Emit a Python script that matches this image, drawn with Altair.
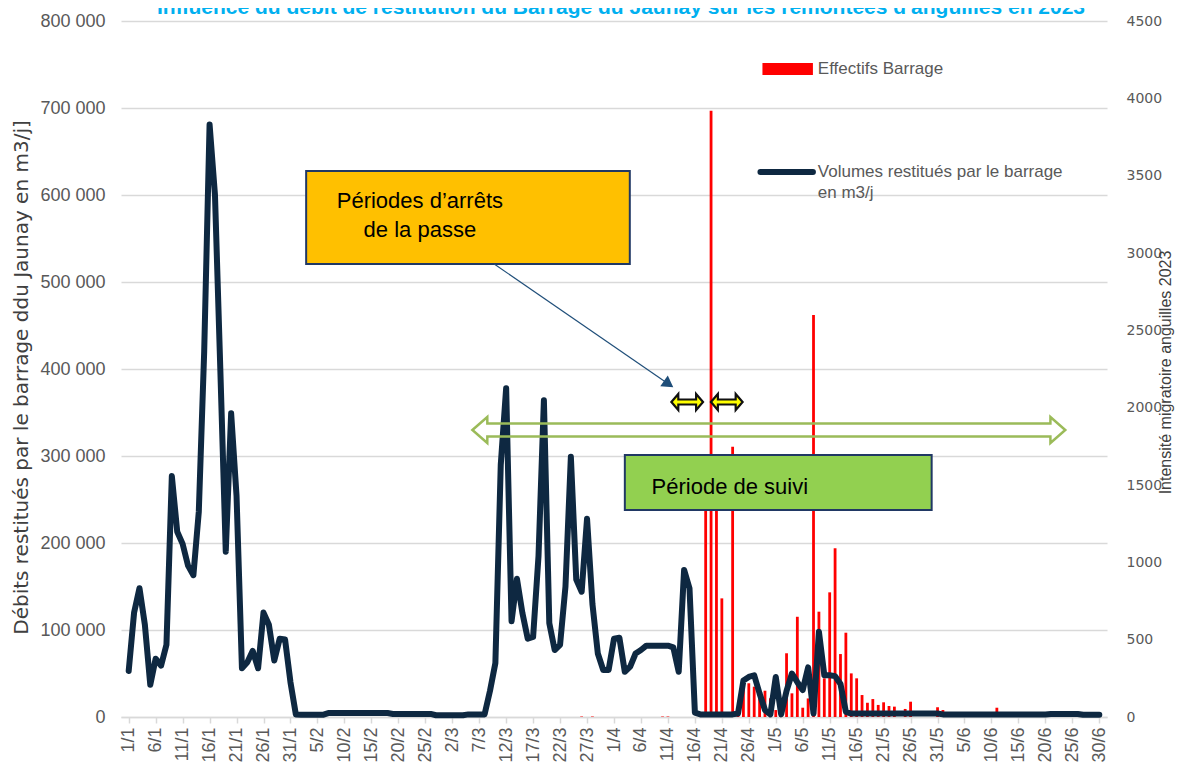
import altair as alt
import pandas as pd

TITLE = "Influence du débit de restitution du Barrage du Jaunay sur les remontées d'anguilles en 2023"

# ---------------- data ----------------
# day index: 0 = 1/1/2023 ... 180 = 30/6/2023
days = list(range(181))

volumes = [
    53000, 120000, 148000, 106000, 37000, 67000, 59000, 83000, 277000, 213000,
    199000, 174000, 163000, 236000, 420000, 681000, 600000, 398000, 190000, 349000,
    254000, 56000, 63000, 76000, 56000, 120000, 106000, 65000, 90000, 89000,
    40000, 3000, 2500, 2500, 2500, 2500, 2500, 4500, 4500, 4500,
    4500, 4500, 4500, 4500, 4500, 4500, 4500, 4500, 4500, 3500,
    3500, 3500, 3500, 3500, 3500, 3500, 3500, 2000, 2000, 2000,
    2000, 2000, 2000, 3000, 3000, 3000, 3000, 30000, 62000, 290000,
    378000, 110000, 159000, 120000, 90000, 92000, 185000, 364000, 108000, 77000,
    83000, 150000, 299000, 158000, 144000, 228000, 130000, 73000, 54000, 54000,
    90000, 91000, 52000, 58000, 73000, 77000, 82000, 82000, 82000, 82000,
    82000, 80000, 52000, 169000, 148000, 5000, 3000, 3000, 3000, 3000,
    3000, 3000, 3000, 4000, 42000, 46000, 48000, 27000, 8000, 3000,
    46000, 3000, 30000, 50000, 40000, 31000, 57000, 4000, 98000, 48000,
    48000, 47000, 38000, 6000, 4000, 4000, 4000, 4000, 4000, 4000,
    4000, 4000, 4000, 4000, 4000, 4000, 4000, 4000, 4000, 4000,
    4000, 3000, 3000, 3000, 3000, 3000, 3000, 3000, 3000, 3000,
    3000, 3000, 3000, 3000, 3000, 3000, 3000, 3000, 3000, 3000,
    3000, 3500, 3500, 3500, 3500, 3500, 3500, 2500, 2500, 2500,
    2500,
]

bar_days = [84, 86, 99, 100, 107, 108, 109, 110, 112, 113, 114, 115, 116, 117, 118,
            119, 120, 121, 122, 123, 124, 125, 126, 127, 128, 129, 130, 131, 132,
            133, 134, 135, 136, 137, 138, 139, 140, 141, 142, 144, 145, 150, 151, 161]
bar_counts = [3, 3, 3, 3, 1550, 3920, 1500, 767, 1748, 60, 175, 218, 196, 165, 170,
              121, 45, 60, 412, 153, 648, 60, 120, 2599, 681, 250, 806, 1091, 407,
              545, 282, 250, 142, 92, 116, 78, 95, 71, 67, 52, 99, 63, 45, 60]

tick_days = [0, 5, 10, 15, 20, 25, 30, 35, 40, 45, 50, 55, 60, 65, 70, 75, 80, 85,
             90, 95, 100, 105, 110, 115, 120, 125, 130, 135, 140, 145, 150, 155,
             160, 165, 170, 175, 180]
tick_labels = ["1/1", "6/1", "11/1", "16/1", "21/1", "26/1", "31/1", "5/2", "10/2",
               "15/2", "20/2", "25/2", "2/3", "7/3", "12/3", "17/3", "22/3", "27/3",
               "1/4", "6/4", "11/4", "16/4", "21/4", "26/4", "1/5", "6/5", "11/5",
               "16/5", "21/5", "26/5", "31/5", "5/6", "10/6", "15/6", "20/6", "25/6",
               "30/6"]
left_ticks = [0, 100000, 200000, 300000, 400000, 500000, 600000, 700000, 800000]
right_ticks = [0, 500, 1000, 1500, 2000, 2500, 3000, 3500, 4000, 4500]

line_df = pd.DataFrame({"day": days, "volume": volumes})
bar_df = pd.DataFrame({"day": bar_days, "count": bar_counts})

# ---------------- scales / axes ----------------
XS = alt.Scale(domain=[-0.5, 180.5], nice=False, zero=False)
YL = alt.Scale(domain=[0, 800000], nice=False)
YR = alt.Scale(domain=[0, 4500], nice=False)

LINE_COLOR = "#0E2841"
GREY = "#595959"

label_list = "[" + ",".join("'" + s + "'" for s in tick_labels) + "]"
day_list = "[" + ",".join(str(d) for d in tick_days) + "]"
x_label_expr = label_list + "[indexof(" + day_list + ", datum.value)]"

X_AXIS = alt.Axis(
    values=tick_days, labelExpr=x_label_expr, labelAngle=270, labelFlush=False,
    labelOverlap=False, labelFont="Liberation Sans", labelFontSize=18,
    labelColor=GREY, labelPadding=4, grid=False, domain=True, domainColor="#D9D9D9",
    domainWidth=1.5, ticks=True, tickColor="#D9D9D9", tickSize=6, tickWidth=1.5,
    title=None)


def xq(field):
    return alt.X(field, type="quantitative", scale=XS, axis=X_AXIS)


# ---------------- main marks ----------------
bars = alt.Chart(bar_df).mark_bar(color="#FF0000", size=2.8).encode(
    x=xq("day"),
    y=alt.Y("count:Q", scale=YR, axis=alt.Axis(
        orient="right", values=right_ticks, format="d", grid=False, ticks=False,
        domain=False, labelPadding=19, labelFont="DejaVu Sans", labelFontSize=14,
        labelColor=GREY, title="Intensité migratoire anguilles 2023",
        titleFont="Liberation Sans", titleFontSize=16, titleFontWeight="normal",
        titleColor="#404040", titleAngle=270, titleX=58, titleY=351,
        titleAlign="center", titleBaseline="middle")),
)

line = alt.Chart(line_df).mark_line(
    color=LINE_COLOR, strokeWidth=6, strokeJoin="round", strokeCap="round"
).encode(
    x=xq("day"),
    y=alt.Y("volume:Q", scale=YL, axis=alt.Axis(
        orient="left", values=left_ticks,
        labelExpr="datum.value == 0 ? '0' : format(datum.value / 1000, 'd') + ' 000'",
        grid=True, gridColor="#D9D9D9", gridWidth=1.3, ticks=False, domain=False,
        labelPadding=16, labelFont="Liberation Sans", labelFontSize=18,
        labelColor=GREY, title="Débits restitués par le barrage ddu Jaunay en m3/j]",
        titleFont="DejaVu Sans", titleFontSize=20, titleFontWeight="normal",
        titleColor="#404040", titleAngle=270, titleX=-100, titleY=356,
        titleAlign="center", titleBaseline="middle")),
)

# ---------------- annotations (data coordinates) ----------------
green_arrow = pd.DataFrame({
    "day": [63.74, 66.50, 66.51, 170.93, 170.94, 173.69],
    "top": [329886, 344829, 337357, 337357, 344829, 329886],
    "bot": [329886, 314943, 322415, 322415, 314943, 329886],
})
green_arrow_mark = alt.Chart(green_arrow).mark_area(
    orient="vertical", fill="#FFFFFF", fillOpacity=0, stroke="#9BBB59", strokeWidth=2.5
).encode(
    x=xq("day"),
    y=alt.Y("top:Q", scale=YL, axis=None), y2="bot:Q",
)

yellow_arrows = pd.DataFrame({
    "id": ["a"] * 6 + ["b"] * 6,
    "day": [100.64, 101.92, 101.93, 105.22, 105.23, 106.51,
            107.98, 109.26, 109.27, 112.56, 112.57, 113.85],
    "top": [362070, 371265, 364944, 364944, 371265, 362070] * 2,
    "bot": [362070, 352875, 359196, 359196, 352875, 362070] * 2,
})
yellow_mark = alt.Chart(yellow_arrows).mark_area(
    orient="vertical", fill="#FFFF00", stroke="#111111", strokeWidth=2.2
).encode(
    x=xq("day"),
    y=alt.Y("top:Q", scale=YL, axis=None), y2="bot:Q",
    detail="id:N",
)

box_df = pd.DataFrame({
    "x1": [32.91, 92.01], "x2": [92.93, 148.91],
    "y1": [520690, 237932], "y2": [627589, 301151],
    "fill": ["#FFC000", "#92D050"],
})
boxes = alt.Chart(box_df).mark_rect(stroke="#203864", strokeWidth=2).encode(
    x=xq("x1"), x2="x2:Q",
    y=alt.Y("y1:Q", scale=YL, axis=None), y2="y2:Q",
    fill=alt.Fill("fill:N", scale=None),
)

arrow_df = pd.DataFrame({"x1": [67.78], "y1": [520690], "x2": [100.64], "y2": [380461]})
arrow_line = alt.Chart(arrow_df).mark_rule(color="#1F4E79", strokeWidth=1.2).encode(
    x=xq("x1"), x2="x2:Q",
    y=alt.Y("y1:Q", scale=YL, axis=None), y2="y2:Q",
)
head_df = pd.DataFrame({"x": [99.85], "y": [383910]})
arrow_head = alt.Chart(head_df).mark_point(
    shape="triangle", angle=125, filled=True, size=170, color="#1F4E79", opacity=1
).encode(
    x=xq("x"),
    y=alt.Y("y:Q", scale=YL, axis=None),
)

center_txt = pd.DataFrame({
    "x": [54.0, 54.0], "y": [593106, 559770],
    "t": ["Périodes d’arrêts", "de la passe"],
})
center_text = alt.Chart(center_txt).mark_text(
    font="Liberation Sans", fontSize=22, color="#000000", align="center", baseline="middle"
).encode(
    x=xq("x"),
    y=alt.Y("y:Q", scale=YL, axis=None),
    text="t:N",
)
suivi_txt = pd.DataFrame({"x": [96.97], "y": [264369], "t": ["Période de suivi"]})
suivi_text = alt.Chart(suivi_txt).mark_text(
    font="Liberation Sans", fontSize=22, color="#000000", align="left", baseline="middle"
).encode(
    x=xq("x"),
    y=alt.Y("y:Q", scale=YL, axis=None),
    text="t:N",
)

# legend
leg_rect_df = pd.DataFrame({"x1": [117.53], "x2": [126.89], "y1": [737934], "y2": [751727]})
leg_rect = alt.Chart(leg_rect_df).mark_rect(color="#FF0000").encode(
    x=xq("x1"), x2="x2:Q",
    y=alt.Y("y1:Q", scale=YL, axis=None), y2="y2:Q",
)
leg_line_df = pd.DataFrame({"x1": [117.16], "x2": [126.89], "y": [626439]})
leg_line = alt.Chart(leg_line_df).mark_rule(
    color=LINE_COLOR, strokeWidth=6, strokeCap="round"
).encode(
    x=xq("x1"), x2="x2:Q",
    y=alt.Y("y:Q", scale=YL, axis=None),
)
leg_txt = pd.DataFrame({
    "x": [127.8, 127.8, 127.8], "y": [744831, 626439, 602299],
    "t": ["Effectifs Barrage", "Volumes restitués par le barrage", "en m3/j"],
})
leg_text = alt.Chart(leg_txt).mark_text(
    font="Liberation Sans", fontSize=17, color=GREY, align="left", baseline="middle"
).encode(
    x=xq("x"),
    y=alt.Y("y:Q", scale=YL, axis=None),
    text="t:N",
)

title_df = pd.DataFrame({"t": [TITLE]})
title_text = alt.Chart(title_df).mark_text(
    font="Liberation Sans", fontSize=21, fontWeight="bold", color="#00B0F0",
    align="center", baseline="alphabetic"
).encode(
    x=alt.value(500), y=alt.value(-7), text="t:N",
)

chart = alt.layer(
    bars, line, green_arrow_mark, boxes, arrow_line, arrow_head, yellow_mark,
    center_text, suivi_text, leg_rect, leg_line, leg_text, title_text,
).resolve_scale(
    y="independent"
).properties(
    width=986, height=696,
    autosize=alt.AutoSizeParams(type="none"),
    padding={"left": 113, "top": 13, "right": 68, "bottom": 48},
    background="#FFFFFF",
).configure_view(strokeWidth=0)

chart.save("out.html", embed_options={"renderer": "svg", "actions": False})
